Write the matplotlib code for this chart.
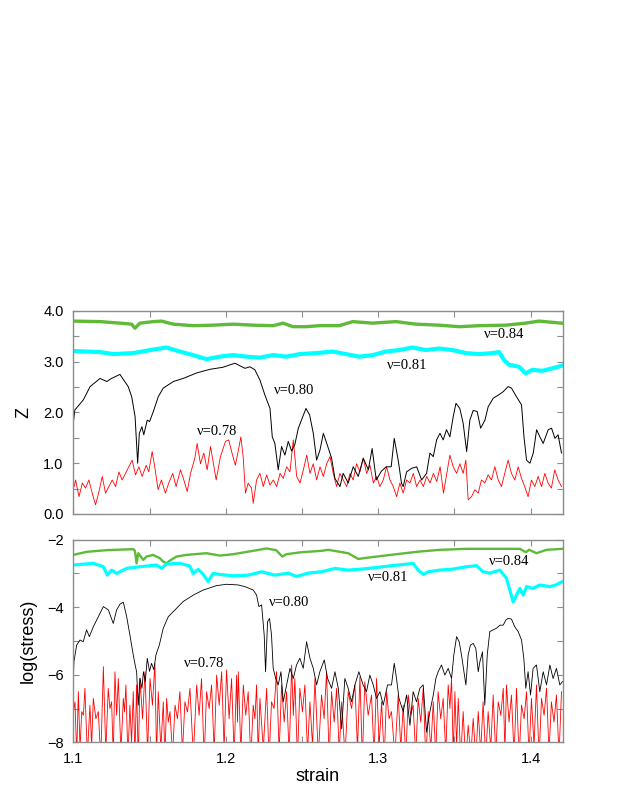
import matplotlib
matplotlib.use('Agg')
import matplotlib.pyplot as plt
from matplotlib.ticker import MultipleLocator, FixedLocator

plt.rcParams['font.family'] = ['Liberation Sans', 'DejaVu Sans']

# ---- top panel: Z vs strain ----
z84_strain = [1.100, 1.1175, 1.1306, 1.1382, 1.1404, 1.1437, 1.1524, 1.1579, 1.1655, 1.1786,
              1.1917, 1.2048, 1.2179, 1.2310, 1.2376, 1.2441, 1.2528, 1.2614, 1.2745, 1.2832,
              1.2963, 1.3116, 1.3247, 1.3400, 1.3531, 1.3662, 1.3837, 1.3967, 1.4054, 1.4203]
z84 = [3.80, 3.79, 3.76, 3.74, 3.66, 3.76, 3.79, 3.80, 3.74, 3.71,
       3.72, 3.74, 3.72, 3.71, 3.76, 3.69, 3.69, 3.71, 3.71, 3.79,
       3.76, 3.79, 3.74, 3.72, 3.69, 3.71, 3.72, 3.76, 3.80, 3.76]

z81_strain = [1.100, 1.1175, 1.1262, 1.1393, 1.1524, 1.1611, 1.1699, 1.1786, 1.1873, 1.1961,
              1.2048, 1.2135, 1.2223, 1.2310, 1.2397, 1.2485, 1.2592, 1.2701, 1.2789, 1.2876,
              1.2963, 1.3050, 1.3138, 1.3225, 1.3313, 1.3400, 1.3487, 1.3575, 1.3662, 1.3750,
              1.3793, 1.3826, 1.3859, 1.3924, 1.3967, 1.4011, 1.4077, 1.4142, 1.4203]
z81 = [3.21, 3.19, 3.15, 3.17, 3.24, 3.28, 3.20, 3.13, 3.05, 3.10,
       3.13, 3.10, 3.08, 3.13, 3.10, 3.15, 3.17, 3.20, 3.15, 3.10,
       3.13, 3.20, 3.23, 3.28, 3.23, 3.26, 3.23, 3.17, 3.15, 3.17,
       3.19, 3.03, 2.94, 2.90, 2.77, 2.84, 2.82, 2.87, 2.92]

z80_strain = [1.1000, 1.1010, 1.1066, 1.1110, 1.1175, 1.1220, 1.1250, 1.1306, 1.1328, 1.1360,
              1.1383, 1.1405, 1.1422, 1.1433, 1.1450, 1.1462, 1.1485, 1.1500, 1.1525, 1.1557,
              1.1590, 1.1656, 1.1720, 1.1810, 1.1896, 1.1980, 1.2060, 1.2126, 1.2159, 1.2191,
              1.2224, 1.2257, 1.2290, 1.2305, 1.2322, 1.2344, 1.2366, 1.2388, 1.2410, 1.2432,
              1.2453, 1.2476, 1.2526, 1.2550, 1.2574, 1.2596, 1.2618, 1.2640, 1.2669, 1.2694,
              1.2716, 1.2749, 1.2770, 1.2803, 1.2836, 1.2869, 1.2902, 1.2935, 1.2960, 1.2987,
              1.3020, 1.3052, 1.3085, 1.3105, 1.3131, 1.3153, 1.3164, 1.3186, 1.3219, 1.3252,
              1.3285, 1.3317, 1.3339, 1.3361, 1.3383, 1.3405, 1.3426, 1.3448, 1.3470, 1.3492,
              1.3510, 1.3535, 1.3557, 1.3580, 1.3601, 1.3623, 1.3649, 1.3672, 1.3700, 1.3721,
              1.3754, 1.3787, 1.3820, 1.3852, 1.3874, 1.3907, 1.3940, 1.3956, 1.3973, 1.3995,
              1.4017, 1.4039, 1.4060, 1.4082, 1.4115, 1.4137, 1.4159, 1.4180, 1.4202]
z80 = [1.80, 2.05, 2.25, 2.51, 2.67, 2.61, 2.67, 2.75, 2.65, 2.51,
       2.31, 1.92, 1.00, 1.59, 1.72, 1.56, 1.85, 1.82, 2.02, 2.31,
       2.48, 2.61, 2.67, 2.78, 2.85, 2.89, 2.97, 2.87, 2.90, 2.84,
       2.64, 2.34, 2.08, 1.52, 1.39, 0.87, 1.33, 1.16, 1.43, 1.24,
       1.37, 1.69, 2.08, 1.95, 1.59, 1.06, 1.26, 1.59, 1.33, 1.10,
       0.70, 0.54, 0.80, 0.61, 0.93, 0.74, 1.10, 0.87, 1.29, 0.67,
       0.84, 0.93, 0.93, 1.49, 1.06, 0.60, 0.54, 0.83, 0.90, 0.93,
       0.67, 0.80, 1.20, 1.13, 1.46, 1.59, 1.46, 1.66, 1.52, 1.92,
       2.18, 2.08, 1.79, 1.23, 1.85, 2.04, 2.02, 1.69, 1.85, 2.11,
       2.28, 2.34, 2.41, 2.51, 2.48, 2.31, 2.15, 1.52, 1.06, 1.00,
       1.20, 1.66, 1.52, 1.39, 1.66, 1.69, 1.49, 1.56, 1.20]

z78_strain = [1.1000, 1.1005, 1.1015, 1.1037, 1.1059, 1.1080, 1.1102, 1.1124, 1.1146, 1.1168,
              1.1190, 1.1211, 1.1233, 1.1255, 1.1277, 1.1299, 1.1320, 1.1342, 1.1364, 1.1386,
              1.1408, 1.1430, 1.1451, 1.1478, 1.1495, 1.1517, 1.1534, 1.1556, 1.1578, 1.1604,
              1.1626, 1.1652, 1.1674, 1.1703, 1.1725, 1.1747, 1.1769, 1.1797, 1.1812, 1.1834,
              1.1856, 1.1878, 1.1900, 1.1915, 1.1937, 1.1965, 1.1998, 1.2019, 1.2041, 1.2063,
              1.2085, 1.2099, 1.2114, 1.2129, 1.2147, 1.2169, 1.2180, 1.2202, 1.2224, 1.2246,
              1.2268, 1.2290, 1.2312, 1.2334, 1.2356, 1.2377, 1.2399, 1.2421, 1.2443, 1.2465,
              1.2487, 1.2509, 1.2531, 1.2552, 1.2574, 1.2596, 1.2618, 1.2640, 1.2662, 1.2684,
              1.2705, 1.2727, 1.2749, 1.2771, 1.2793, 1.2815, 1.2836, 1.2858, 1.2880, 1.2902,
              1.2924, 1.2946, 1.2968, 1.2990, 1.3011, 1.3033, 1.3055, 1.3077, 1.3099, 1.3121,
              1.3142, 1.3164, 1.3186, 1.3208, 1.3230, 1.3252, 1.3274, 1.3296, 1.3318, 1.3340,
              1.3362, 1.3384, 1.3406, 1.3428, 1.3450, 1.3470, 1.3492, 1.3514, 1.3536, 1.3557,
              1.3575, 1.3590, 1.3612, 1.3634, 1.3656, 1.3677, 1.3699, 1.3721, 1.3743, 1.3765,
              1.3787, 1.3808, 1.3830, 1.3852, 1.3874, 1.3896, 1.3918, 1.3940, 1.3961, 1.3983,
              1.4005, 1.4027, 1.4049, 1.4071, 1.4093, 1.4114, 1.4136, 1.4158, 1.4180, 1.4202]
z78 = [0.60, 0.54, 0.67, 0.34, 0.61, 0.51, 0.67, 0.41, 0.18, 0.44,
       0.74, 0.41, 0.54, 0.67, 0.54, 0.83, 0.67, 0.80, 0.93, 1.06,
       0.77, 0.93, 0.74, 0.96, 0.83, 1.23, 0.93, 0.48, 0.67, 0.41,
       0.61, 0.80, 0.54, 0.87, 0.67, 0.44, 0.80, 1.10, 1.39, 0.99,
       1.20, 0.87, 1.33, 1.06, 0.67, 1.13, 1.43, 1.46, 1.20, 0.96,
       1.29, 1.52, 1.13, 0.41, 0.61, 0.51, 0.21, 0.67, 0.80, 0.54,
       0.77, 0.57, 0.67, 0.54, 0.80, 0.70, 0.93, 0.83, 1.46, 0.74,
       0.61, 0.87, 1.16, 0.80, 0.99, 0.67, 0.93, 0.74, 0.99, 1.13,
       0.80, 0.54, 0.80, 0.67, 0.54, 0.80, 0.67, 0.99, 0.83, 1.10,
       0.80, 0.96, 0.61, 0.74, 0.54, 0.67, 0.93, 0.67, 0.54, 0.34,
       0.61, 0.41, 0.67, 0.61, 0.80, 0.54, 0.67, 0.54, 0.74, 0.61,
       0.80, 0.64, 0.93, 0.41, 0.80, 1.16, 0.93, 0.80, 0.99, 0.80,
       1.06, 0.28, 0.34, 0.48, 0.41, 0.67, 0.61, 0.77, 0.67, 0.93,
       0.67, 0.54, 0.80, 1.06, 0.80, 0.67, 0.93, 0.70, 0.54, 0.34,
       0.67, 0.54, 0.74, 0.54, 0.80, 0.61, 0.51, 0.87, 0.67, 0.54]

# ---- bottom panel: log(stress) vs strain ----
s84_strain = [1.100, 1.1087, 1.1218, 1.1393, 1.1404, 1.1415, 1.1426, 1.1459, 1.1480, 1.1524,
              1.1568, 1.1590, 1.1611, 1.1633, 1.1677, 1.1742, 1.1873, 1.1961, 1.2048, 1.2179,
              1.2266, 1.2330, 1.2371, 1.2397, 1.2497, 1.2628, 1.2672, 1.2803, 1.2869, 1.2934,
              1.3044, 1.3175, 1.3273, 1.3404, 1.3579, 1.3754, 1.3929, 1.3968, 1.3990, 1.4038,
              1.4104, 1.4209]
s84 = [-2.45, -2.36, -2.31, -2.28, -2.33, -2.70, -2.40, -2.60, -2.50, -2.45,
       -2.55, -2.65, -2.70, -2.62, -2.50, -2.45, -2.40, -2.47, -2.43, -2.33,
       -2.26, -2.31, -2.50, -2.43, -2.37, -2.33, -2.30, -2.40, -2.57, -2.53,
       -2.47, -2.40, -2.35, -2.30, -2.27, -2.27, -2.27, -2.37, -2.30, -2.40,
       -2.30, -2.27]

s81_strain = [1.100, 1.1131, 1.1197, 1.1223, 1.1251, 1.1284, 1.1349, 1.1437, 1.1546, 1.1579,
              1.1611, 1.1699, 1.1764, 1.1786, 1.1819, 1.1852, 1.1884, 1.1917, 1.1961, 1.2048,
              1.2147, 1.2235, 1.2322, 1.2410, 1.2464, 1.2541, 1.2628, 1.2716, 1.2803, 1.2890,
              1.2978, 1.3087, 1.3175, 1.3229, 1.3262, 1.3295, 1.3328, 1.3404, 1.3492, 1.3579,
              1.3645, 1.3688, 1.3732, 1.3798, 1.3841, 1.3885, 1.3907, 1.3929, 1.3951, 1.3973,
              1.4016, 1.4060, 1.4126, 1.4165, 1.4209]
s81 = [-2.75, -2.70, -2.80, -3.05, -2.90, -3.00, -2.85, -2.80, -2.75, -2.85,
       -2.72, -2.70, -2.78, -3.00, -2.88, -3.03, -3.24, -3.00, -3.03, -3.07,
       -3.05, -2.95, -3.05, -2.99, -3.09, -2.99, -2.95, -2.85, -2.90, -2.87,
       -2.83, -2.77, -2.73, -2.70, -2.90, -3.03, -2.95, -2.90, -2.87, -2.80,
       -2.77, -2.95, -2.99, -2.90, -3.14, -3.84, -3.64, -3.44, -3.64, -3.39,
       -3.44, -3.34, -3.39, -3.34, -3.24]

s80_strain = [1.1000, 1.1004, 1.1022, 1.1044, 1.1065, 1.1087, 1.1105, 1.1131, 1.1164, 1.1197,
              1.1230, 1.1262, 1.1284, 1.1306, 1.1328, 1.1350, 1.1371, 1.1393, 1.1405, 1.1415,
              1.1426, 1.1437, 1.1450, 1.1460, 1.1472, 1.1485, 1.1500, 1.1513, 1.1528, 1.1542,
              1.1564, 1.1590, 1.1623, 1.1667, 1.1721, 1.1787, 1.1852, 1.1940, 1.2005, 1.2082,
              1.2126, 1.2180, 1.2202, 1.2217, 1.2235, 1.2252, 1.2261, 1.2274, 1.2287, 1.2300,
              1.2311, 1.2327, 1.2344, 1.2362, 1.2377, 1.2399, 1.2421, 1.2443, 1.2464, 1.2486,
              1.2508, 1.2530, 1.2552, 1.2574, 1.2596, 1.2617, 1.2646, 1.2668, 1.2694, 1.2716,
              1.2738, 1.2760, 1.2781, 1.2803, 1.2825, 1.2847, 1.2873, 1.2901, 1.2923, 1.2945,
              1.2967, 1.2989, 1.3011, 1.3033, 1.3061, 1.3087, 1.3105, 1.3120, 1.3136, 1.3164,
              1.3186, 1.3208, 1.3229, 1.3251, 1.3273, 1.3295, 1.3317, 1.3339, 1.3361, 1.3378,
              1.3393, 1.3415, 1.3437, 1.3459, 1.3481, 1.3496, 1.3514, 1.3531, 1.3546, 1.3562,
              1.3575, 1.3590, 1.3605, 1.3623, 1.3640, 1.3656, 1.3667, 1.3684, 1.3699, 1.3715,
              1.3732, 1.3754, 1.3776, 1.3798, 1.3820, 1.3837, 1.3852, 1.3874, 1.3896, 1.3918,
              1.3940, 1.3955, 1.3968, 1.3983, 1.3999, 1.4016, 1.4038, 1.4060, 1.4082, 1.4104,
              1.4126, 1.4147, 1.4169, 1.4191, 1.4209]
s80 = [-6.20, -5.61, -5.12, -4.97, -5.02, -4.67, -4.87, -4.58, -4.28, -3.98,
       -4.08, -4.48, -4.08, -3.91, -3.85, -4.28, -4.82, -5.41, -5.70, -5.91,
       -6.90, -6.10, -6.40, -5.91, -6.20, -5.51, -5.90, -5.66, -5.85, -5.41,
       -5.12, -4.62, -4.28, -4.08, -3.83, -3.64, -3.49, -3.36, -3.32, -3.34,
       -3.39, -3.49, -3.64, -3.98, -3.93, -4.82, -5.91, -4.43, -4.33, -4.82,
       -5.81, -6.10, -6.30, -5.91, -6.80, -6.30, -5.81, -6.11, -5.71, -5.51,
       -5.81, -5.02, -5.51, -5.81, -6.30, -5.91, -5.56, -6.11, -6.40, -5.91,
       -6.40, -7.60, -6.11, -6.40, -6.80, -6.30, -5.91, -6.30, -6.50, -6.01,
       -6.30, -6.70, -6.50, -6.90, -6.30, -6.30, -5.66, -6.11, -6.70, -7.09,
       -6.60, -7.50, -6.50, -6.80, -6.40, -6.30, -7.70, -7.09, -6.60, -6.11,
       -5.91, -5.71, -6.01, -5.81, -6.11, -5.41, -4.87, -5.02, -5.41, -5.91,
       -6.30, -5.41, -5.12, -5.07, -5.22, -5.91, -5.61, -5.32, -6.90, -5.41,
       -4.72, -4.67, -4.62, -4.53, -4.53, -4.38, -4.33, -4.35, -4.58, -4.72,
       -4.97, -5.51, -6.40, -5.91, -6.60, -5.81, -5.71, -6.50, -5.91, -6.30,
       -5.71, -6.11, -5.81, -6.30, -6.20]

s78_strain = [1.1000, 1.1011, 1.1022, 1.1033, 1.1044, 1.1055, 1.1066, 1.1076, 1.1092, 1.1109,
              1.1120, 1.1131, 1.1148, 1.1164, 1.1180, 1.1197, 1.1213, 1.1229, 1.1240, 1.1251,
              1.1262, 1.1273, 1.1284, 1.1295, 1.1312, 1.1328, 1.1336, 1.1345, 1.1358, 1.1371,
              1.1382, 1.1393, 1.1404, 1.1415, 1.1426, 1.1437, 1.1454, 1.1470, 1.1487, 1.1503,
              1.1519, 1.1535, 1.1546, 1.1557, 1.1574, 1.1590, 1.1601, 1.1612, 1.1623, 1.1634,
              1.1651, 1.1667, 1.1683, 1.1699, 1.1716, 1.1732, 1.1749, 1.1765, 1.1787, 1.1809,
              1.1825, 1.1841, 1.1858, 1.1874, 1.1891, 1.1907, 1.1924, 1.1940, 1.1957, 1.1973,
              1.1989, 1.2005, 1.2022, 1.2038, 1.2055, 1.2071, 1.2077, 1.2082, 1.2099, 1.2115,
              1.2131, 1.2147, 1.2164, 1.2180, 1.2191, 1.2202, 1.2213, 1.2224, 1.2246, 1.2268,
              1.2284, 1.2300, 1.2317, 1.2333, 1.2350, 1.2366, 1.2383, 1.2399, 1.2416, 1.2432,
              1.2443, 1.2453, 1.2470, 1.2486, 1.2503, 1.2519, 1.2536, 1.2552, 1.2569, 1.2585,
              1.2607, 1.2628, 1.2645, 1.2661, 1.2678, 1.2694, 1.2711, 1.2727, 1.2744, 1.2760,
              1.2782, 1.2803, 1.2825, 1.2847, 1.2864, 1.2880, 1.2896, 1.2912, 1.2934, 1.2956,
              1.2973, 1.2989, 1.3006, 1.3022, 1.3039, 1.3055, 1.3071, 1.3087, 1.3109, 1.3131,
              1.3148, 1.3164, 1.3181, 1.3197, 1.3213, 1.3229, 1.3246, 1.3262, 1.3279, 1.3295,
              1.3312, 1.3328, 1.3345, 1.3361, 1.3377, 1.3393, 1.3410, 1.3426, 1.3443, 1.3459,
              1.3470, 1.3481, 1.3492, 1.3503, 1.3514, 1.3525, 1.3541, 1.3557, 1.3574, 1.3590,
              1.3607, 1.3623, 1.3640, 1.3656, 1.3672, 1.3688, 1.3705, 1.3721, 1.3738, 1.3754,
              1.3771, 1.3787, 1.3804, 1.3820, 1.3831, 1.3841, 1.3858, 1.3874, 1.3891, 1.3907,
              1.3924, 1.3940, 1.3957, 1.3973, 1.3989, 1.4005, 1.4022, 1.4038, 1.4055, 1.4071,
              1.4088, 1.4104, 1.4120, 1.4136, 1.4153, 1.4169, 1.4186, 1.4202]
s78 = [-7.1, -6.80, -8.4, -6.50, -8.2, -7.09, -7.2, -6.40, -8.4, -6.90,
       -8.1, -6.70, -7.3, -7.09, -8.5, -5.76, -8.3, -6.40, -7.0, -6.80,
       -8.4, -5.91, -7.2, -6.11, -8.3, -6.70, -7.1, -6.30, -8.5, -6.90,
       -8.0, -6.50, -8.4, -6.30, -8.6, -6.11, -7.3, -5.91, -8.3, -6.11,
       -6.9, -5.66, -8.4, -6.50, -8.2, -6.80, -8.5, -6.70, -7.4, -7.09,
       -8.4, -6.90, -7.3, -6.50, -8.3, -6.80, -7.1, -6.40, -8.4, -6.30,
       -7.2, -6.11, -8.5, -6.50, -7.0, -6.30, -8.3, -6.01, -6.9, -5.91,
       -8.2, -5.86, -7.3, -6.11, -8.4, -6.01, -7.4, -5.91, -8.3, -6.30,
       -7.2, -6.50, -8.5, -6.90, -7.3, -6.30, -8.4, -6.70, -8.2, -6.40,
       -8.5, -6.80, -7.0, -5.91, -8.3, -6.30, -7.4, -6.50, -8.4, -5.71,
       -7.2, -6.11, -8.5, -6.40, -7.1, -6.30, -8.3, -6.80, -8.1, -6.11,
       -8.4, -6.60, -7.3, -5.91, -8.5, -6.50, -7.4, -6.40, -8.3, -6.80,
       -8.4, -6.50, -7.0, -6.30, -8.2, -6.06, -8.5, -6.21, -7.2, -6.60,
       -8.4, -6.11, -8.1, -6.80, -8.5, -6.50, -7.3, -7.09, -8.4, -6.60,
       -8.2, -6.90, -8.5, -6.60, -7.2, -6.90, -8.4, -6.70, -7.4, -6.40,
       -8.5, -7.09, -8.2, -6.80, -8.4, -6.50, -7.3, -6.70, -8.3, -6.30,
       -7.0, -6.11, -8.4, -6.50, -8.1, -6.70, -8.5, -7.09, -8.6, -7.49,
       -8.4, -7.29, -8.5, -7.09, -8.3, -6.80, -8.5, -7.09, -8.2, -6.60,
       -8.4, -6.80, -7.2, -6.40, -8.3, -6.30, -7.4, -6.60, -8.4, -6.40,
       -8.5, -6.90, -7.3, -6.50, -8.4, -6.70, -8.1, -6.30, -8.5, -6.70,
       -7.2, -6.40, -8.3, -6.80, -7.4, -6.60, -8.4, -6.50]

x_ticks = [1.1, 1.2, 1.3, 1.4]
z_ticks = [0.0, 1.0, 2.0, 3.0, 4.0]
log_ticks = [-8, -6, -4, -2]

GREEN = '#5eba38'
CYAN = '#00ffff'
RED = '#ff0000'
FRAME = '#8c8c8c'

fig = plt.figure(figsize=(6.23, 8.06), dpi=100)
ax1 = fig.add_axes([0.1177, 0.3623, 0.7855, 0.2519])
ax2 = fig.add_axes([0.1177, 0.0790, 0.7855, 0.2514])

# top panel
ax1.plot(z84_strain, z84, color=GREEN, lw=2.4)
ax1.plot(z81_strain, z81, color=CYAN, lw=3.0)
ax1.plot(z78_strain, z78, color=RED, lw=0.6)
ax1.plot(z80_strain, z80, color='black', lw=0.7)

ax1.set_xlim(1.1, 1.421)
ax1.set_ylim(0.0, 4.0)
ax1.yaxis.set_major_locator(FixedLocator(z_ticks))
ax1.set_yticklabels([f'{v:.1f}' for v in z_ticks])
ax1.yaxis.set_minor_locator(MultipleLocator(0.5))
ax1.xaxis.set_major_locator(FixedLocator(x_ticks))
ax1.xaxis.set_minor_locator(MultipleLocator(0.05))
ax1.tick_params(labelbottom=False)
ax1.set_ylabel('Z', fontsize=13)
ax1.yaxis.set_label_coords(-0.084, 0.5)

serif = ['Liberation Serif', 'DejaVu Serif']
ax1.text(1.3693, 3.53, 'ν=0.84', fontsize=10.5, family=serif, va='center')
ax1.text(1.3057, 2.92, 'ν=0.81', fontsize=10.5, family=serif, va='center')
ax1.text(1.2316, 2.44, 'ν=0.80', fontsize=10.5, family=serif, va='center')
ax1.text(1.1811, 1.62, 'ν=0.78', fontsize=10.5, family=serif, va='center')

# bottom panel
ax2.plot(s84_strain, s84, color=GREEN, lw=1.7)
ax2.plot(s81_strain, s81, color=CYAN, lw=2.3)
ax2.plot(s78_strain, s78, color=RED, lw=0.6)
ax2.plot(s80_strain, s80, color='black', lw=0.6)

ax2.set_xlim(1.1, 1.421)
ax2.set_ylim(-8, -2)
ax2.yaxis.set_major_locator(FixedLocator(log_ticks))
ax2.yaxis.set_minor_locator(MultipleLocator(1))
ax2.xaxis.set_major_locator(FixedLocator(x_ticks))
ax2.set_xticklabels([f'{v:.1f}' for v in x_ticks])
ax2.xaxis.set_minor_locator(MultipleLocator(0.05))
ax2.set_ylabel('log(stress)', fontsize=13)
ax2.yaxis.set_label_coords(-0.074, 0.5)
ax2.set_xlabel('strain', fontsize=13)
ax2.xaxis.set_label_coords(0.5, -0.125)

ax2.text(1.3726, -2.66, 'ν=0.84', fontsize=10.5, family=serif, va='center')
ax2.text(1.2933, -3.13, 'ν=0.81', fontsize=10.5, family=serif, va='center')
ax2.text(1.2284, -3.85, 'ν=0.80', fontsize=10.5, family=serif, va='center')
ax2.text(1.1727, -5.67, 'ν=0.78', fontsize=10.5, family=serif, va='center')

for ax in (ax1, ax2):
    for sp in ax.spines.values():
        sp.set_color(FRAME)
        sp.set_linewidth(1.0)
    ax.tick_params(which='both', direction='in', top=True, right=True,
                   color=FRAME, width=0.8, labelsize=10.5, pad=7)
    ax.tick_params(which='major', length=4)
    ax.tick_params(which='minor', length=4)

fig.savefig('out.png', dpi=100, facecolor='white')
